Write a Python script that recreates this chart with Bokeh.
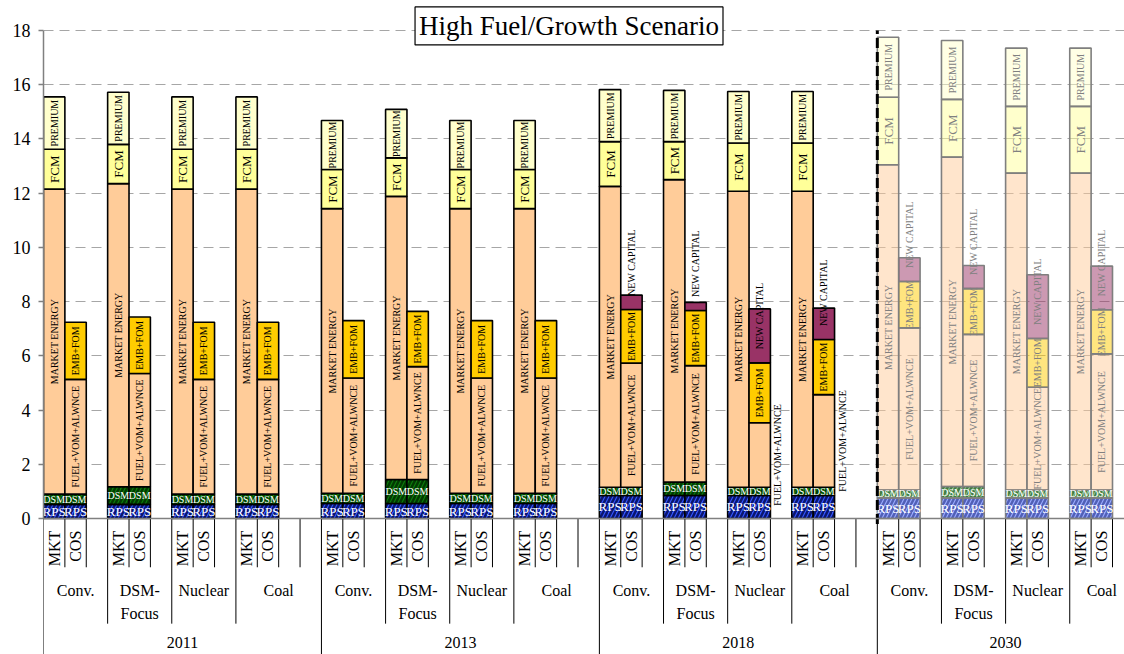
import math
from bokeh.plotting import figure
from bokeh.models import Range1d, FixedTicker, Span, Label, ColumnDataSource
from bokeh.core.properties import value
from bokeh.embed import file_html
from bokeh.resources import INLINE

# ---------------- data ----------------
years = ["2011", "2013", "2018", "2030"]
groups = ["Conv.", "DSM-\nFocus", "Nuclear", "Coal"]
bar_types = ["MKT", "COS"]
y_ticks = [0, 2, 4, 6, 8, 10, 12, 14, 16, 18]
title_text = "High Fuel/Growth Scenario"

# segment heights; order: 2011 Conv/DSM-Focus/Nuclear/Coal, 2013 ..., 2018 ..., 2030 ...
rps = [0.52, 0.52, 0.52, 0.52, 0.55, 0.55, 0.55, 0.55,
       0.85, 0.85, 0.85, 0.85, 0.76, 0.76, 0.76, 0.76]
dsm = [0.38, 0.65, 0.38, 0.38, 0.38, 0.89, 0.38, 0.38,
       0.30, 0.49, 0.30, 0.30, 0.29, 0.42, 0.29, 0.29]
# MKT bar
market_energy = [11.25, 11.18, 11.25, 11.25, 10.50, 10.44, 10.50, 10.50,
                 11.10, 11.16, 10.92, 10.92, 12.00, 12.15, 11.69, 11.69]
fcm = [1.47, 1.45, 1.47, 1.47, 1.44, 1.42, 1.44, 1.44,
       1.65, 1.40, 1.78, 1.78, 2.49, 2.13, 2.46, 2.46]
premium = [1.93, 1.92, 1.93, 1.93, 1.81, 1.79, 1.81, 1.81,
           1.92, 1.89, 1.90, 1.90, 2.21, 2.17, 2.15, 2.15]
# COS bar
fuel_vom_alwnce = [4.23, 4.18, 4.23, 4.23, 4.25, 4.16, 4.25, 4.25,
                   4.58, 4.30, 2.38, 3.42, 5.98, 5.61, 3.79, 5.02]
emb_fom = [2.11, 2.08, 2.11, 2.11, 2.12, 2.04, 2.12, 2.12,
           1.98, 2.03, 2.21, 2.03, 1.71, 1.69, 1.80, 1.63]
new_capital = [0, 0, 0, 0, 0, 0, 0, 0,
               0.53, 0.30, 1.99, 1.16, 0.88, 0.85, 2.35, 1.61]

mkt_segments = [("RPS", rps), ("DSM", dsm), ("MARKET ENERGY", market_energy),
                ("FCM", fcm), ("PREMIUM", premium)]
cos_segments = [("RPS", rps), ("DSM", dsm), ("FUEL+VOM+ALWNCE", fuel_vom_alwnce),
                ("EMB+FOM", emb_fom), ("NEW CAPITAL", new_capital)]

# ---------------- styles ----------------
FONT = value("Liberation Serif")
STYLE = {
    "RPS": dict(fill="#3355ff", hatch="/", hcol="#0a166e", size="13px", angle=0, tcol="#ffffff", align="center"),
    "DSM": dict(fill="#0b7d0b", hatch="/", hcol="#023a02", size="10px", angle=0, tcol="#ffffff", align="center"),
    "MARKET ENERGY": dict(fill="#ffcc99", hatch=None, size="10px", angle=math.pi / 2, tcol="#000000", align="center"),
    "FCM": dict(fill="#ffff99", hatch=None, size="13px", angle=math.pi / 2, tcol="#000000", align="center"),
    "PREMIUM": dict(fill="#ffffcc", hatch=None, size="10px", angle=math.pi / 2, tcol="#000000", align="center"),
    "FUEL+VOM+ALWNCE": dict(fill="#ffcc99", hatch=None, size="10px", angle=math.pi / 2, tcol="#000000", align="center"),
    "EMB+FOM": dict(fill="#ffcc00", hatch=None, size="10px", angle=math.pi / 2, tcol="#000000", align="center"),
    "NEW CAPITAL": dict(fill="#993366", hatch=None, size="10px", angle=math.pi / 2, tcol="#000000", align="left"),
}

SLOT_PX = 21.38
UNIT_PX = 27.11
W, H = 1124, 654
BL = 43
TOP_PX = 30          # pixel position of the top tick
x_end = (W - BL) / SLOT_PX
y_end = y_ticks[-1] + TOP_PX / UNIT_PX
y_start = y_end - H / UNIT_PX

p = figure(width=W, height=H, x_range=Range1d(0, x_end), y_range=Range1d(y_start, y_end),
           output_backend="svg", toolbar_location=None, x_axis_location=None,
           min_border_left=BL, min_border_top=0, min_border_right=0, min_border_bottom=0)
p.outline_line_color = None
p.xgrid.visible = False

p.yaxis.ticker = FixedTicker(ticks=y_ticks)
p.yaxis.bounds = (y_ticks[0], y_ticks[-1])
p.yaxis.axis_line_color = "#808080"
p.yaxis.axis_line_width = 1.5
p.yaxis.major_tick_line_color = "#808080"
p.yaxis.major_tick_line_width = 1.5
p.yaxis.major_tick_out = 5
p.yaxis.major_tick_in = 0
p.yaxis.minor_tick_out = 0
p.yaxis.minor_tick_in = 0
p.yaxis.major_label_text_font = "Liberation Serif"
p.yaxis.major_label_text_font_size = "18px"
p.yaxis.major_label_text_color = "#000000"
p.yaxis.major_label_standoff = 8

p.ygrid.ticker = FixedTicker(ticks=y_ticks)
p.ygrid.grid_line_color = "#a6a6a6"
p.ygrid.grid_line_dash = "10 6"
p.ygrid.grid_line_width = 1.2

# ---------------- layout of slots ----------------
n_years = len(years)
year_len = [len(groups) * 3 + (1 if yi < n_years - 1 else 0) for yi in range(n_years)]
year_start = [sum(year_len[:yi]) for yi in range(n_years)]
faded_year = n_years - 1

quad_rows = {k: dict(left=[], right=[], bottom=[], top=[], alpha=[], lc=[]) for k in STYLE}
text_rows = {k: dict(x=[], y=[], text=[], color=[]) for k in STYLE}

for yi in range(n_years):
    for gi in range(len(groups)):
        idx = yi * len(groups) + gi
        base = year_start[yi] + 3 * gi
        faded = (yi == faded_year)
        for b, segs in enumerate([mkt_segments, cos_segments]):
            left = base + b
            bottom = 0.0
            for name, vals in segs:
                h = vals[idx]
                if h <= 0:
                    continue
                top = bottom + h
                q = quad_rows[name]
                q["left"].append(left)
                q["right"].append(left + 1)
                q["bottom"].append(bottom)
                q["top"].append(top)
                q["alpha"].append(0.5 if faded else 1.0)
                q["lc"].append("#7f7f7f" if faded else "#000000")
                tx, ty = left + 0.5, (bottom + top) / 2
                if name == "NEW CAPITAL":
                    ty = bottom + 0.5
                if name == "FUEL+VOM+ALWNCE" and h < 3.6:
                    tx = left + 1.35
                st = STYLE[name]
                tc = st["tcol"]
                if faded and tc == "#000000":
                    tc = "#808080"
                t = text_rows[name]
                t["x"].append(tx)
                t["y"].append(ty)
                t["text"].append(name)
                t["color"].append(tc)
                bottom = top

for name, st in STYLE.items():
    src = ColumnDataSource(quad_rows[name])
    kw = dict(left="left", right="right", bottom="bottom", top="top", source=src,
              fill_color=st["fill"], fill_alpha="alpha", line_color="lc", line_width=1.6)
    if st["hatch"]:
        kw.update(hatch_pattern=st["hatch"], hatch_color=st["hcol"], hatch_alpha="alpha",
                  hatch_scale=8, hatch_weight=2.5)
    p.quad(**kw)

for name, st in STYLE.items():
    src = ColumnDataSource(text_rows[name])
    p.text(x="x", y="y", text="text", source=src, angle=st["angle"], text_color="color",
           text_font=FONT, text_font_size=value(st["size"]), text_align=st["align"],
           text_baseline="middle")

# zero line
p.add_layout(Span(location=0, dimension="width", line_color="#808080", line_width=1.5))

# ---------------- multi-level category axis ----------------
seg = dict(x0=[], y0=[], x1=[], y1=[])
short_end, mid_end = -1.8, -3.88
for yi in range(n_years):
    s0 = year_start[yi]
    seg["x0"].append(s0); seg["x1"].append(s0); seg["y0"].append(0); seg["y1"].append(y_start)
    for off in range(1, year_len[yi] + (0 if yi < n_years - 1 else 1)):
        if yi < n_years - 1 and off == year_len[yi]:
            continue
        e = mid_end if off % 3 == 0 and off < 12 else short_end
        seg["x0"].append(s0 + off); seg["x1"].append(s0 + off)
        seg["y0"].append(0); seg["y1"].append(e)
p.segment(x0="x0", y0="y0", x1="x1", y1="y1", source=ColumnDataSource(seg),
          line_color="#000000", line_width=1)

# dashed boundary before the last year
p.segment(x0=[year_start[-1]], y0=[-0.2], x1=[year_start[-1]], y1=[y_ticks[-1]],
          line_color="#000000", line_width=3, line_dash="10 4")

cat = dict(x=[], text=[])
grp = dict(x=[], text=[])
yr = dict(x=[], text=[])
for yi in range(n_years):
    s0 = year_start[yi]
    yr["x"].append(s0 + year_len[yi] / 2); yr["text"].append(years[yi])
    for gi in range(len(groups)):
        gstart = s0 + 3 * gi
        gend = s0 + year_len[yi] if gi == len(groups) - 1 else gstart + 3
        grp["x"].append((gstart + gend) / 2); grp["text"].append(groups[gi])
        for b, bt in enumerate(bar_types):
            cat["x"].append(gstart + b + 0.5); cat["text"].append(bt)

p.text(x="x", y=-0.45, text="text", source=ColumnDataSource(cat), angle=math.pi / 2,
       text_font=FONT, text_font_size=value("16px"), text_align="right", text_baseline="middle",
       text_color="#000000")
p.text(x="x", y=-2.33, text="text", source=ColumnDataSource(grp),
       text_font=FONT, text_font_size=value("16px"), text_align="center", text_baseline="top",
       text_color="#000000", text_line_height=1.35)
p.text(x="x", y=-4.58, text="text", source=ColumnDataSource(yr),
       text_font=FONT, text_font_size=value("16px"), text_align="center", text_baseline="middle",
       text_color="#000000")

# title box
p.add_layout(Label(x=24.58, y=18.17, text=title_text, text_align="center", text_baseline="middle",
                   text_font="Liberation Serif", text_font_size="27px", text_color="#000000",
                   border_line_color="#000000", border_line_width=1.2,
                   background_fill_color="#ffffff", padding=4))

open("out.html", "w").write(file_html(p, INLINE))
